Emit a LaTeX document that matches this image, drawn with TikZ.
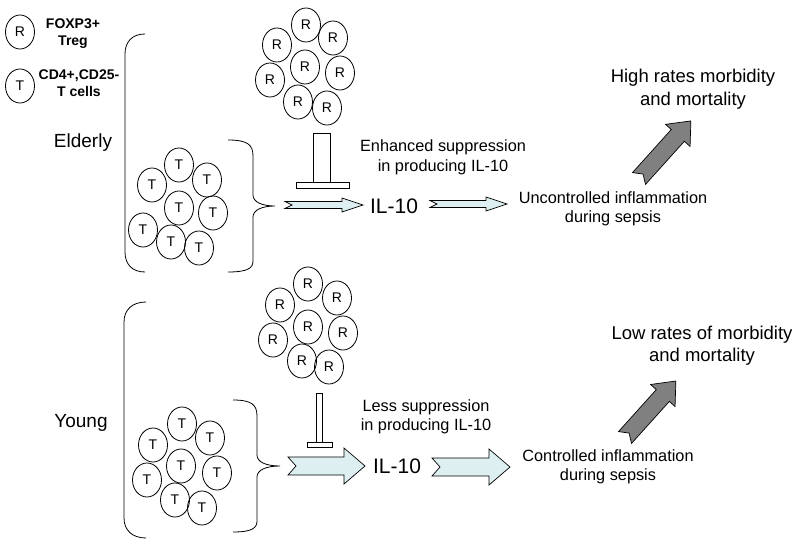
\documentclass[tikz,border=0pt]{standalone}
\usepackage{fontspec}
\setmainfont{Liberation Sans}
\usetikzlibrary{shapes.geometric}

\definecolor{paleblue}{RGB}{221,239,241}
\definecolor{midgray}{RGB}{128,128,128}

\tikzset{
  cell/.style={draw, ellipse, minimum width=29pt, minimum height=34pt, inner sep=0pt,
    font=\fontsize{14}{16}\selectfont},
  keytext/.style={align=center, font=\bfseries\fontsize{14}{17.5}\selectfont},
  agetext/.style={font=\fontsize{19}{22}\selectfont},
  effecttext/.style={align=center, font=\fontsize{16.3}{19.5}\selectfont},
  outcometext/.style={align=center, font=\fontsize{18.5}{22.5}\selectfont},
  iltext/.style={font=\fontsize{21}{24}\selectfont},
  lightarrow/.style={draw, fill=paleblue, line width=0.7pt},
  heavyarrow/.style={draw, fill=midgray, line width=0.7pt},
  barblock/.style={draw, fill=white, line width=0.7pt}
}

% block arrow with notched tail: [style]{length}{shaft half}{head half}{head length}{notch}
\newcommand{\blockarrow}[6][]{%
  \draw[#1] (0,-#3) -- (#2-#5,-#3) -- (#2-#5,-#4) -- (#2,0) -- (#2-#5,#4)
    -- (#2-#5,#3) -- (0,#3) -- (#6,0) -- cycle;}

\begin{document}
\begin{tikzpicture}[x=1pt, y=-1pt, line width=0.8pt]
    \useasboundingbox (0,0) rectangle (800,548);

    % Legend
    \node[cell] (keyR) at (20,32) {R};
    \node[keytext] (keyRtext) at (73,33.5) {FOXP3+\\Treg};
    \node[cell] (keyT) at (20,86) {T};
    \node[keytext] (keyTtext) at (79,83) {CD4+,CD25-\\T cells};

    % Elderly group
    \node[agetext] (elderly) at (83,143) {Elderly};
    \draw (145,34) .. controls (132,34) and (125,42) .. (125,54) -- (125,252)
        .. controls (125,264) and (132,272) .. (145,272);
    \foreach \x/\y [count=\i] in {306/25, 333/38, 277/45, 305/67, 340/73, 270/80, 298/102, 327/108}
        \node[cell] (eR\i) at (\x,\y) {R};
    \foreach \x/\y [count=\i] in {179/165, 207/180, 152/185, 179/208, 213/213, 143/230, 171/242, 199/248}
        \node[cell] (eT\i) at (\x,\y) {T};
    \draw (228,140) .. controls (248,140) and (253,145) .. (253,156) -- (253,195)
        .. controls (253,202) and (262,206) .. (275,206)
        .. controls (262,206) and (253,210) .. (253,217) -- (253,261)
        .. controls (253,268) and (248,272) .. (228,272);
    \coordinate (etip) at (275,206);

    % Elderly inhibition
    \draw[barblock] (313,133) rectangle (330,182);
    \draw[barblock] (296,182) rectangle (349,188);

    % Elderly pathway
    \begin{scope}[shift={(285,205)}]
        \blockarrow[lightarrow]{78}{3.5}{7}{21}{7}
    \end{scope}
    \node[iltext] (eIL) at (394,206) {IL-10};
    \begin{scope}[shift={(430,204)}]
        \blockarrow[lightarrow]{77}{3.5}{7}{21}{7}
    \end{scope}
    \node[effecttext] (esupp) at (443,157.5) {Enhanced suppression\\in producing IL-10};
    \node[effecttext] (einfl) at (613,209) {Uncontrolled inflammation\\during sepsis};
    \begin{scope}[shift={(639,178.5)}, rotate=48]
        \blockarrow[heavyarrow]{77.5}{8.8}{16.5}{19.5}{6}
    \end{scope}
    \node[outcometext] (eout) at (693,89) {High rates morbidity\\and mortality};

    % Young group
    \node[agetext] (young) at (81,423) {Young};
    \draw (146,302) .. controls (132,302) and (124,310) .. (124,322) -- (124,518)
        .. controls (124,530) and (132,538) .. (146,538);
    \foreach \x/\y [count=\i] in {308/284, 337/298, 280/305, 308/327, 343/333, 273/340, 302/361, 329/367}
        \node[cell] (yR\i) at (\x,\y) {R};
    \foreach \x/\y [count=\i] in {182/424, 210/438, 153/445, 181/466, 217/473, 147/480, 175/500, 202/508}
        \node[cell] (yT\i) at (\x,\y) {T};
    \draw (233,400) .. controls (252,400) and (257,405) .. (257,416) -- (257,455)
        .. controls (257,462) and (266,466) .. (280,466)
        .. controls (266,466) and (257,470) .. (257,477) -- (257,521)
        .. controls (257,528) and (252,532) .. (233,532);
    \coordinate (ytip) at (280,466);

    % Young inhibition
    \draw[barblock] (316,393) rectangle (322,442);
    \draw[barblock] (307,442) rectangle (332,447);

    % Young pathway
    \begin{scope}[shift={(288,466)}]
        \blockarrow[lightarrow]{77}{9}{18}{21}{8}
    \end{scope}
    \node[iltext] (yIL) at (397,466) {IL-10};
    \begin{scope}[shift={(432,467)}]
        \blockarrow[lightarrow]{78}{9}{18}{21}{8}
    \end{scope}
    \node[effecttext] (ysupp) at (426,417) {Less suppression\\in producing IL-10};
    \node[effecttext] (yinfl) at (608,467) {Controlled inflammation\\during sepsis};
    \begin{scope}[shift={(625,437.5)}, rotate=48]
        \blockarrow[heavyarrow]{76}{8.8}{16.5}{19.5}{6}
    \end{scope}
    \node[outcometext] (yout) at (702,345.5) {Low rates of morbidity\\and mortality};
\end{tikzpicture}
\end{document}
